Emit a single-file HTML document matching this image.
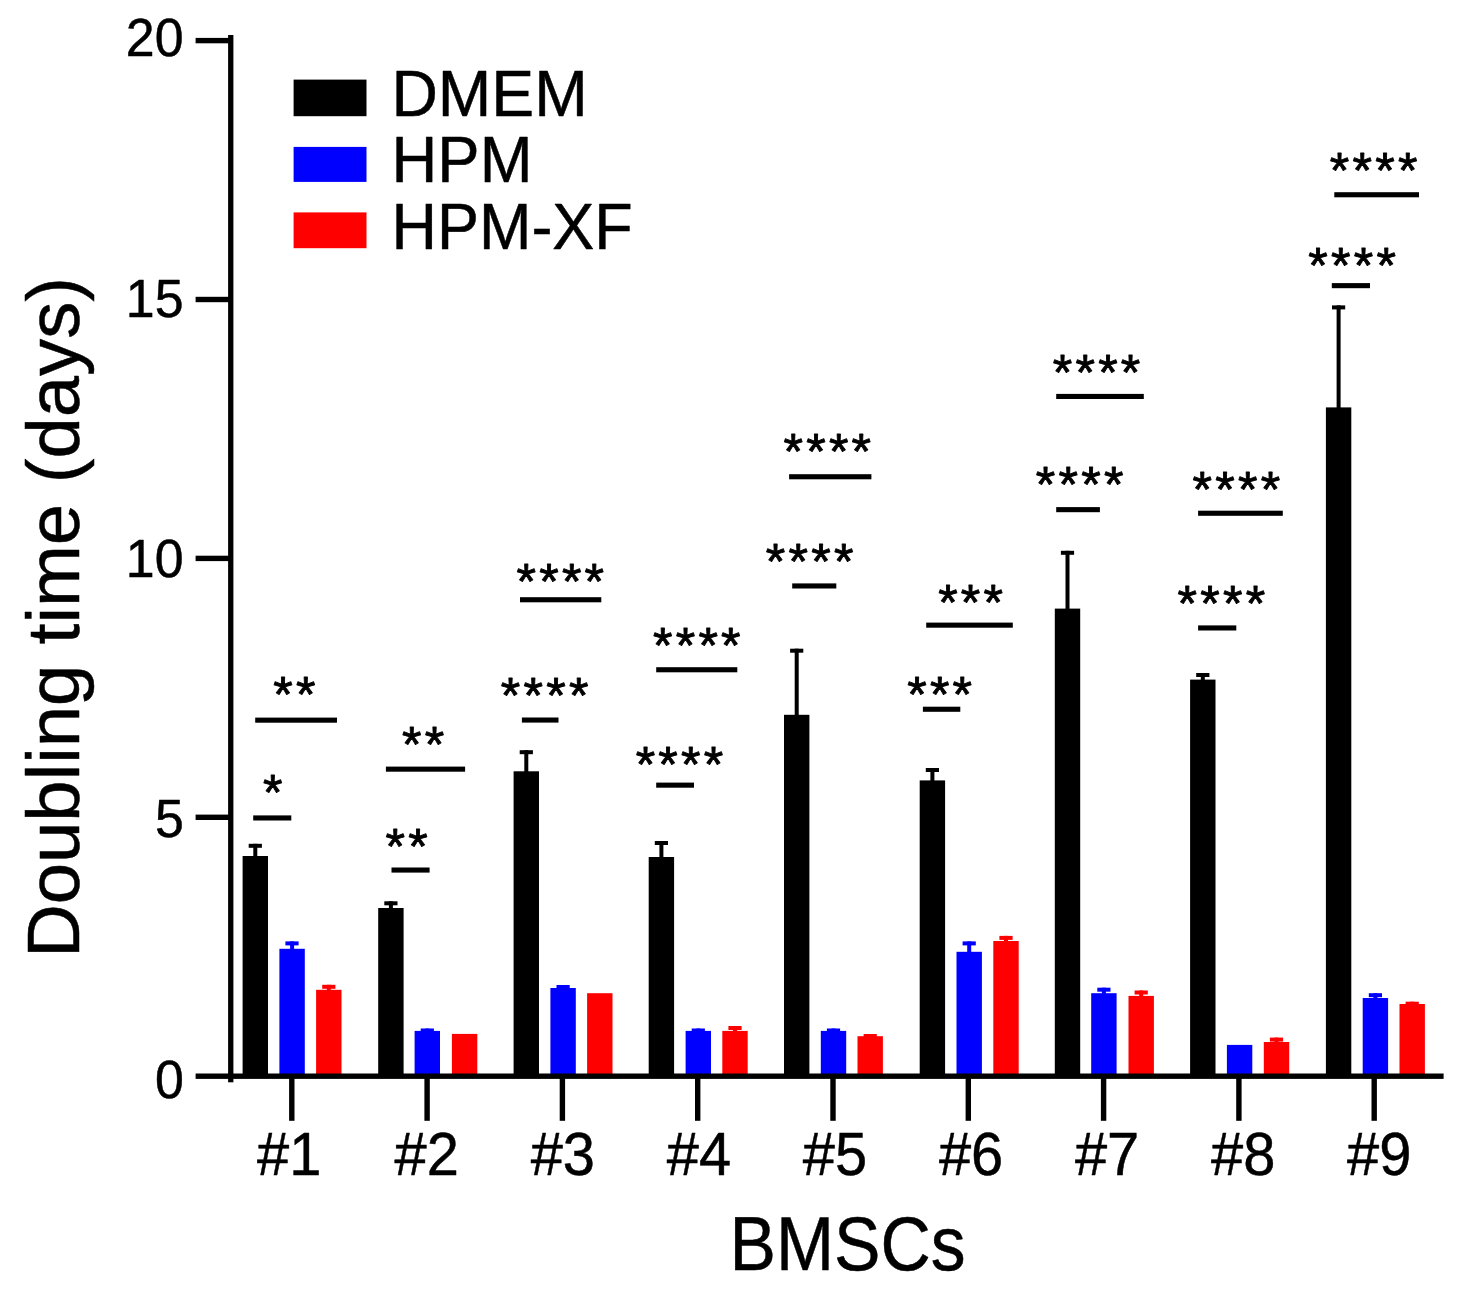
<!DOCTYPE html><html><head><meta charset="utf-8"><title>Doubling time</title>
<style>html,body{margin:0;padding:0;background:#fff}svg{display:block}text{font-family:"Liberation Sans",Arial,sans-serif;fill:#000}</style></head><body>
<svg width="1462" height="1300" viewBox="0 0 1462 1300">
<rect width="1462" height="1300" fill="#fff"/>
<g id="chart">
<rect x="253.3" y="843.8" width="4" height="13.2" fill="#000"/>
<rect x="248.7" y="843.8" width="13.2" height="4" fill="#000"/>
<rect x="242.6" y="856.0" width="25.4" height="220.2" fill="#000"/>
<rect x="290.1" y="941.4" width="4" height="8.4" fill="#0000ff"/>
<rect x="285.4" y="941.4" width="13.2" height="4" fill="#0000ff"/>
<rect x="279.4" y="948.8" width="25.4" height="127.4" fill="#0000ff"/>
<rect x="326.8" y="984.8" width="4" height="6.0" fill="#ff0000"/>
<rect x="322.2" y="984.8" width="13.2" height="4" fill="#ff0000"/>
<rect x="316.1" y="989.8" width="25.4" height="86.4" fill="#ff0000"/>
<rect x="388.9" y="901.3" width="4" height="7.7" fill="#000"/>
<rect x="384.3" y="901.3" width="13.2" height="4" fill="#000"/>
<rect x="378.2" y="908.0" width="25.4" height="168.2" fill="#000"/>
<rect x="425.3" y="1028.5" width="4" height="3.4" fill="#0000ff"/>
<rect x="420.7" y="1028.5" width="13.2" height="4" fill="#0000ff"/>
<rect x="414.6" y="1030.9" width="25.4" height="45.3" fill="#0000ff"/>
<rect x="451.9" y="1033.9" width="25.4" height="42.3" fill="#ff0000"/>
<rect x="524.3" y="750.2" width="4" height="22.1" fill="#000"/>
<rect x="519.7" y="750.2" width="13.2" height="4" fill="#000"/>
<rect x="513.6" y="771.3" width="25.4" height="304.9" fill="#000"/>
<rect x="561.1" y="985.0" width="4" height="4.0" fill="#0000ff"/>
<rect x="556.5" y="985.0" width="13.2" height="4" fill="#0000ff"/>
<rect x="550.4" y="988.0" width="25.4" height="88.2" fill="#0000ff"/>
<rect x="587.1" y="993.2" width="25.4" height="83.0" fill="#ff0000"/>
<rect x="659.4" y="841.0" width="4" height="17.0" fill="#000"/>
<rect x="654.8" y="841.0" width="13.2" height="4" fill="#000"/>
<rect x="648.7" y="857.0" width="25.4" height="219.2" fill="#000"/>
<rect x="696.3" y="1028.5" width="4" height="3.4" fill="#0000ff"/>
<rect x="691.7" y="1028.5" width="13.2" height="4" fill="#0000ff"/>
<rect x="685.6" y="1030.9" width="25.4" height="45.3" fill="#0000ff"/>
<rect x="733.0" y="1026.0" width="4" height="5.9" fill="#ff0000"/>
<rect x="728.4" y="1026.0" width="13.2" height="4" fill="#ff0000"/>
<rect x="722.3" y="1030.9" width="25.4" height="45.3" fill="#ff0000"/>
<rect x="794.7" y="648.7" width="4" height="67.1" fill="#000"/>
<rect x="790.1" y="648.7" width="13.2" height="4" fill="#000"/>
<rect x="784.0" y="714.8" width="25.4" height="361.4" fill="#000"/>
<rect x="831.5" y="1028.5" width="4" height="3.4" fill="#0000ff"/>
<rect x="826.9" y="1028.5" width="13.2" height="4" fill="#0000ff"/>
<rect x="820.8" y="1030.9" width="25.4" height="45.3" fill="#0000ff"/>
<rect x="868.2" y="1034.0" width="4" height="3.2" fill="#ff0000"/>
<rect x="863.6" y="1034.0" width="13.2" height="4" fill="#ff0000"/>
<rect x="857.5" y="1036.2" width="25.4" height="40.0" fill="#ff0000"/>
<rect x="930.4" y="768.0" width="4" height="13.4" fill="#000"/>
<rect x="925.8" y="768.0" width="13.2" height="4" fill="#000"/>
<rect x="919.7" y="780.4" width="25.4" height="295.8" fill="#000"/>
<rect x="967.2" y="941.4" width="4" height="11.4" fill="#0000ff"/>
<rect x="962.6" y="941.4" width="13.2" height="4" fill="#0000ff"/>
<rect x="956.5" y="951.8" width="25.4" height="124.4" fill="#0000ff"/>
<rect x="1004.0" y="935.9" width="4" height="6.1" fill="#ff0000"/>
<rect x="999.4" y="935.9" width="13.2" height="4" fill="#ff0000"/>
<rect x="993.3" y="941.0" width="25.4" height="135.2" fill="#ff0000"/>
<rect x="1065.5" y="550.8" width="4" height="58.8" fill="#000"/>
<rect x="1060.9" y="550.8" width="13.2" height="4" fill="#000"/>
<rect x="1054.8" y="608.6" width="25.4" height="467.6" fill="#000"/>
<rect x="1101.9" y="987.7" width="4" height="6.5" fill="#0000ff"/>
<rect x="1097.3" y="987.7" width="13.2" height="4" fill="#0000ff"/>
<rect x="1091.2" y="993.2" width="25.4" height="83.0" fill="#0000ff"/>
<rect x="1139.2" y="990.5" width="4" height="6.4" fill="#ff0000"/>
<rect x="1134.6" y="990.5" width="13.2" height="4" fill="#ff0000"/>
<rect x="1128.5" y="995.9" width="25.4" height="80.3" fill="#ff0000"/>
<rect x="1200.8" y="673.0" width="4" height="7.6" fill="#000"/>
<rect x="1196.2" y="673.0" width="13.2" height="4" fill="#000"/>
<rect x="1190.1" y="679.6" width="25.4" height="396.6" fill="#000"/>
<rect x="1226.9" y="1044.9" width="25.4" height="31.3" fill="#0000ff"/>
<rect x="1274.5" y="1037.6" width="4" height="5.4" fill="#ff0000"/>
<rect x="1269.9" y="1037.6" width="13.2" height="4" fill="#ff0000"/>
<rect x="1263.8" y="1042.0" width="25.4" height="34.2" fill="#ff0000"/>
<rect x="1336.6" y="305.4" width="4" height="103.0" fill="#000"/>
<rect x="1332.0" y="305.4" width="13.2" height="4" fill="#000"/>
<rect x="1325.9" y="407.4" width="25.4" height="668.8" fill="#000"/>
<rect x="1373.4" y="993.2" width="4" height="5.8" fill="#0000ff"/>
<rect x="1368.8" y="993.2" width="13.2" height="4" fill="#0000ff"/>
<rect x="1362.7" y="998.0" width="25.4" height="78.2" fill="#0000ff"/>
<rect x="1410.2" y="1001.7" width="4" height="3.3" fill="#ff0000"/>
<rect x="1405.6" y="1001.7" width="13.2" height="4" fill="#ff0000"/>
<rect x="1399.5" y="1004.0" width="25.4" height="72.2" fill="#ff0000"/>
<rect x="228.1" y="35" width="5.3" height="1047.3" fill="#000"/>
<rect x="195.6" y="1073.5" width="1248" height="5.4" fill="#000"/>
<rect x="195.6" y="814.6" width="34" height="5.4" fill="#000"/>
<rect x="195.6" y="555.7" width="34" height="5.4" fill="#000"/>
<rect x="195.6" y="296.8" width="34" height="5.4" fill="#000"/>
<rect x="195.6" y="37.9" width="34" height="5.4" fill="#000"/>
<rect x="289.1" y="1076.2" width="5.4" height="44.6" fill="#000"/>
<rect x="424.4" y="1076.2" width="5.4" height="44.6" fill="#000"/>
<rect x="559.7" y="1076.2" width="5.4" height="44.6" fill="#000"/>
<rect x="695.0" y="1076.2" width="5.4" height="44.6" fill="#000"/>
<rect x="830.3" y="1076.2" width="5.4" height="44.6" fill="#000"/>
<rect x="965.6" y="1076.2" width="5.4" height="44.6" fill="#000"/>
<rect x="1100.9" y="1076.2" width="5.4" height="44.6" fill="#000"/>
<rect x="1236.2" y="1076.2" width="5.4" height="44.6" fill="#000"/>
<rect x="1371.5" y="1076.2" width="5.4" height="44.6" fill="#000"/>
<rect x="293.6" y="79.6" width="72.9" height="36.6" fill="#000"/>
<rect x="293.6" y="146.9" width="72.9" height="35.0" fill="#0000ff"/>
<rect x="293.6" y="212.4" width="72.9" height="35.8" fill="#ff0000"/>
<rect x="253.2" y="815.4" width="38.1" height="5.1" fill="#000"/>
<rect x="255.2" y="717.6" width="81.8" height="5.1" fill="#000"/>
<rect x="391.5" y="867.5" width="38.1" height="5.1" fill="#000"/>
<rect x="385.9" y="766.6" width="79.2" height="5.1" fill="#000"/>
<rect x="521.9" y="717.5" width="36.6" height="5.1" fill="#000"/>
<rect x="520.0" y="597.2" width="81.3" height="5.1" fill="#000"/>
<rect x="656.2" y="782.6" width="37.8" height="5.1" fill="#000"/>
<rect x="656.2" y="667.2" width="81.1" height="5.1" fill="#000"/>
<rect x="792.2" y="583.4" width="44.1" height="5.1" fill="#000"/>
<rect x="789.1" y="474.2" width="82.3" height="5.1" fill="#000"/>
<rect x="922.9" y="706.7" width="37.4" height="5.1" fill="#000"/>
<rect x="926.2" y="622.6" width="86.6" height="5.1" fill="#000"/>
<rect x="1056.2" y="507.1" width="43.7" height="5.1" fill="#000"/>
<rect x="1056.2" y="393.9" width="87.6" height="5.1" fill="#000"/>
<rect x="1198.1" y="625.4" width="38.2" height="5.1" fill="#000"/>
<rect x="1198.1" y="510.7" width="84.7" height="5.1" fill="#000"/>
<rect x="1331.8" y="283.1" width="38.2" height="5.1" fill="#000"/>
<rect x="1334.3" y="192.2" width="84.7" height="5.1" fill="#000"/>
<text transform="translate(125.80 56.30) scale(0.9700 1)" font-size="53.50" text-anchor="start" stroke="#000" stroke-width="0.5" stroke-linejoin="round">20</text>
<text transform="translate(125.80 316.60) scale(0.9700 1)" font-size="53.50" text-anchor="start" stroke="#000" stroke-width="0.5" stroke-linejoin="round">15</text>
<text transform="translate(125.80 577.00) scale(0.9700 1)" font-size="53.50" text-anchor="start" stroke="#000" stroke-width="0.5" stroke-linejoin="round">10</text>
<text transform="translate(155.00 837.30) scale(0.9700 1)" font-size="53.50" text-anchor="start" stroke="#000" stroke-width="0.5" stroke-linejoin="round">5</text>
<text transform="translate(155.00 1097.60) scale(0.9700 1)" font-size="53.50" text-anchor="start" stroke="#000" stroke-width="0.5" stroke-linejoin="round">0</text>
<text transform="translate(257.03 1175.30) scale(0.9560 1)" font-size="60.50" text-anchor="start" stroke="#000" stroke-width="0.5" stroke-linejoin="round">#1</text>
<text transform="translate(394.60 1175.30) scale(0.9560 1)" font-size="60.50" text-anchor="start" stroke="#000" stroke-width="0.5" stroke-linejoin="round">#2</text>
<text transform="translate(530.67 1175.30) scale(0.9560 1)" font-size="60.50" text-anchor="start" stroke="#000" stroke-width="0.5" stroke-linejoin="round">#3</text>
<text transform="translate(666.74 1175.30) scale(0.9560 1)" font-size="60.50" text-anchor="start" stroke="#000" stroke-width="0.5" stroke-linejoin="round">#4</text>
<text transform="translate(802.81 1175.30) scale(0.9560 1)" font-size="60.50" text-anchor="start" stroke="#000" stroke-width="0.5" stroke-linejoin="round">#5</text>
<text transform="translate(938.88 1175.30) scale(0.9560 1)" font-size="60.50" text-anchor="start" stroke="#000" stroke-width="0.5" stroke-linejoin="round">#6</text>
<text transform="translate(1074.95 1175.30) scale(0.9560 1)" font-size="60.50" text-anchor="start" stroke="#000" stroke-width="0.5" stroke-linejoin="round">#7</text>
<text transform="translate(1211.02 1175.30) scale(0.9560 1)" font-size="60.50" text-anchor="start" stroke="#000" stroke-width="0.5" stroke-linejoin="round">#8</text>
<text transform="translate(1347.09 1175.30) scale(0.9560 1)" font-size="60.50" text-anchor="start" stroke="#000" stroke-width="0.5" stroke-linejoin="round">#9</text>
<text transform="translate(729.55 1270.26) scale(0.9205 1)" font-size="75.67" text-anchor="start" stroke="#000" stroke-width="0.5" stroke-linejoin="round">BMSCs</text>
<text transform="translate(79.00 957.84) rotate(-90)" font-size="74.27" text-anchor="start" stroke="#000" stroke-width="0.5" stroke-linejoin="round">Doubling time (days)</text>
<text transform="translate(391.40 115.70) scale(0.9890 1)" font-size="65.00" text-anchor="start" stroke="#000" stroke-width="0.5" stroke-linejoin="round">DMEM</text>
<text transform="translate(391.60 181.80) scale(0.9750 1)" font-size="65.00" text-anchor="start" stroke="#000" stroke-width="0.5" stroke-linejoin="round">HPM</text>
<text transform="translate(391.60 248.70) scale(0.9680 1)" font-size="65.00" text-anchor="start" stroke="#000" stroke-width="0.5" stroke-linejoin="round">HPM-XF</text>
<text transform="translate(263.03 810.20)" font-size="50.00" text-anchor="start" letter-spacing="3.25" stroke="#000" stroke-width="0.9" stroke-linejoin="round">*</text>
<text transform="translate(273.34 712.27)" font-size="50.00" text-anchor="start" letter-spacing="3.25" stroke="#000" stroke-width="0.9" stroke-linejoin="round">**</text>
<text transform="translate(385.52 864.19)" font-size="50.00" text-anchor="start" letter-spacing="3.25" stroke="#000" stroke-width="0.9" stroke-linejoin="round">**</text>
<text transform="translate(402.12 762.41)" font-size="50.00" text-anchor="start" letter-spacing="3.25" stroke="#000" stroke-width="0.9" stroke-linejoin="round">**</text>
<text transform="translate(500.80 712.87)" font-size="50.00" text-anchor="start" letter-spacing="3.25" stroke="#000" stroke-width="0.9" stroke-linejoin="round">****</text>
<text transform="translate(516.49 598.62)" font-size="50.00" text-anchor="start" letter-spacing="3.25" stroke="#000" stroke-width="0.9" stroke-linejoin="round">****</text>
<text transform="translate(635.66 782.15)" font-size="50.00" text-anchor="start" letter-spacing="3.25" stroke="#000" stroke-width="0.9" stroke-linejoin="round">****</text>
<text transform="translate(652.99 662.95)" font-size="50.00" text-anchor="start" letter-spacing="3.25" stroke="#000" stroke-width="0.9" stroke-linejoin="round">****</text>
<text transform="translate(765.87 578.95)" font-size="50.00" text-anchor="start" letter-spacing="3.25" stroke="#000" stroke-width="0.9" stroke-linejoin="round">****</text>
<text transform="translate(783.50 469.23)" font-size="50.00" text-anchor="start" letter-spacing="3.25" stroke="#000" stroke-width="0.9" stroke-linejoin="round">****</text>
<text transform="translate(907.18 712.43)" font-size="50.00" text-anchor="start" letter-spacing="3.25" stroke="#000" stroke-width="0.9" stroke-linejoin="round">***</text>
<text transform="translate(938.14 619.72)" font-size="50.00" text-anchor="start" letter-spacing="3.25" stroke="#000" stroke-width="0.9" stroke-linejoin="round">***</text>
<text transform="translate(1035.87 502.35)" font-size="50.00" text-anchor="start" letter-spacing="3.25" stroke="#000" stroke-width="0.9" stroke-linejoin="round">****</text>
<text transform="translate(1052.74 389.97)" font-size="50.00" text-anchor="start" letter-spacing="3.25" stroke="#000" stroke-width="0.9" stroke-linejoin="round">****</text>
<text transform="translate(1177.56 621.19)" font-size="50.00" text-anchor="start" letter-spacing="3.25" stroke="#000" stroke-width="0.9" stroke-linejoin="round">****</text>
<text transform="translate(1192.60 506.80)" font-size="50.00" text-anchor="start" letter-spacing="3.25" stroke="#000" stroke-width="0.9" stroke-linejoin="round">****</text>
<text transform="translate(1308.34 283.01)" font-size="50.00" text-anchor="start" letter-spacing="3.25" stroke="#000" stroke-width="0.9" stroke-linejoin="round">****</text>
<text transform="translate(1329.80 188.07)" font-size="50.00" text-anchor="start" letter-spacing="3.25" stroke="#000" stroke-width="0.9" stroke-linejoin="round">****</text>
</g></svg></body></html>
